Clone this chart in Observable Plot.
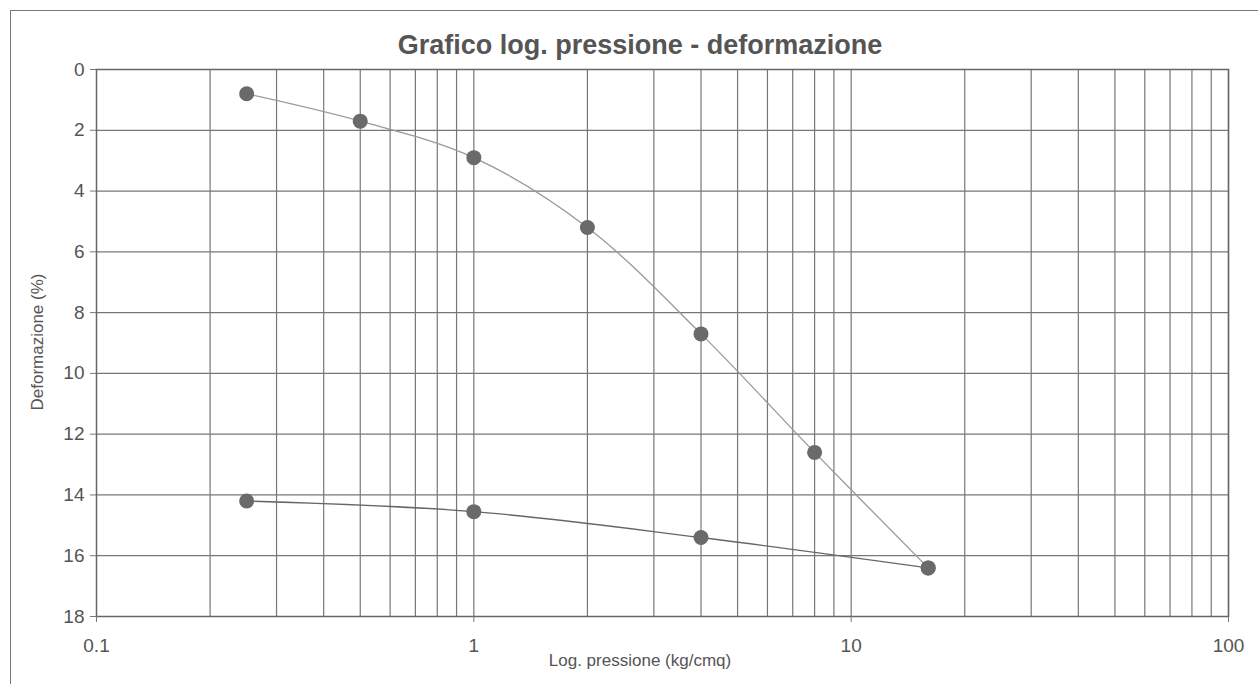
<!DOCTYPE html>
<html>
<head>
<meta charset="utf-8">
<script src="https://cdn.jsdelivr.net/npm/d3@7"></script>
<script src="https://cdn.jsdelivr.net/npm/@observablehq/plot@0.6"></script>
<style>
  html, body { margin: 0; padding: 0; background: #fff; }
  #wrap { position: relative; width: 1258px; height: 684px; overflow: hidden; font-family: "Liberation Sans", Arial, sans-serif; color: #555; }
  #frame { position: absolute; left: 10px; top: 10px; width: 1300px; height: 700px; border: 1.5px solid #777; box-sizing: border-box; }
  #title { position: absolute; left: 96px; width: 1088px; top: 29px; text-align: center; font-size: 27px; font-weight: bold; color: #555; line-height: 32px; }
  #xlabel { position: absolute; left: 96px; width: 1088px; top: 651px; text-align: center; font-size: 17px; line-height: 20px; }
  #ylabel { position: absolute; left: 38px; top: 342px; font-size: 17px; line-height: 20px; white-space: nowrap; transform: translate(-50%, -50%) rotate(-90deg); }
  #chart { position: absolute; left: 0; top: 0; }
  #chart svg text { font-size: 19px !important; fill: #555; }
</style>
</head>
<body>
<div id="wrap">
  <div id="frame"></div>
  <div id="chart"></div>
  <div id="title">Grafico log. pressione - deformazione</div>
  <div id="xlabel">Log. pressione (kg/cmq)</div>
  <div id="ylabel">Deformazione (%)</div>
</div>
<script>
// Loading branch (carico)
const loadPressure = [0.25, 0.5, 1, 2, 4, 8, 16];
const loadDeformation = [0.8, 1.7, 2.9, 5.2, 8.7, 12.6, 16.4];
// Unloading branch (scarico)
const unloadPressure = [0.25, 1, 4, 16];
const unloadDeformation = [14.2, 14.55, 15.4, 16.4];

const xTickLabels = [0.1, 1, 10, 100];
const xGrid = [0.2, 0.3, 0.4, 0.5, 0.6, 0.7, 0.8, 0.9, 1, 2, 3, 4, 5, 6, 7, 8, 9, 10, 20, 30, 40, 50, 60, 70, 80, 90, 100];
const yTicks = [0, 2, 4, 6, 8, 10, 12, 14, 16, 18];

const load = loadPressure.map((p, i) => ({p, d: loadDeformation[i]}));
const unload = unloadPressure.map((p, i) => ({p, d: unloadDeformation[i]}));

const chart = Plot.plot({
  width: 1258,
  height: 684,
  marginTop: 69,
  marginBottom: 68,
  marginLeft: 96,
  marginRight: 30,
  style: {fontFamily: "'Liberation Sans', Arial, sans-serif", fontSize: "19px", color: "#555", background: "transparent"},
  x: {type: "log", domain: [0.1, 100], label: null},
  y: {domain: [0, 18], reverse: true, label: null},
  marks: [
    Plot.ruleX(xGrid, {stroke: "#777", strokeWidth: 1.2}),
    Plot.ruleY(yTicks, {stroke: "#777", strokeWidth: 1.2}),
    Plot.frame({stroke: "#666", strokeWidth: 1.5}),
    Plot.axisX(xTickLabels, {tickSize: 6, tickPadding: 16, tickFormat: d => String(d), stroke: "#777", label: null}),
    Plot.axisY(yTicks, {tickSize: 6, tickPadding: 6, stroke: "#777", label: null}),
    Plot.line(load, {x: "p", y: "d", curve: "catmull-rom", stroke: "#999", strokeWidth: 1.3}),
    Plot.line(unload, {x: "p", y: "d", curve: "catmull-rom", stroke: "#666", strokeWidth: 1.3}),
    Plot.dot(load, {x: "p", y: "d", r: 7.5, fill: "#6a6a6a", stroke: "none"}),
    Plot.dot(unload, {x: "p", y: "d", r: 7.5, fill: "#6a6a6a", stroke: "none"})
  ]
});
document.getElementById("chart").appendChild(chart);
</script>
</body>
</html>
